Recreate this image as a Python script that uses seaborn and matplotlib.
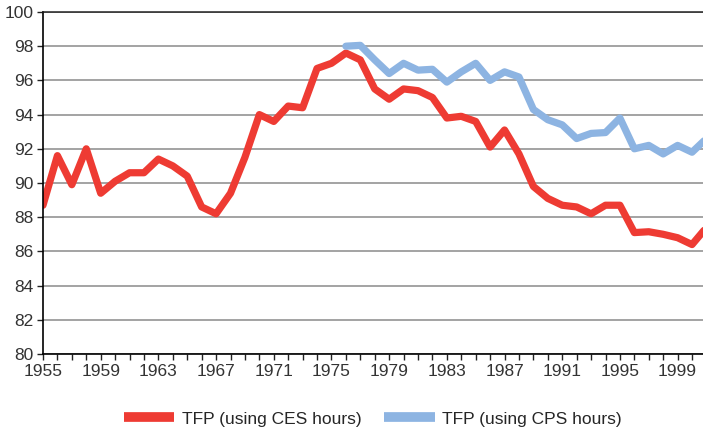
import numpy as np
import pandas as pd
import matplotlib
matplotlib.use("Agg")
import matplotlib.pyplot as plt
import seaborn as sns

# Data
years_ces = list(range(1955, 2002))
tfp_ces = [88.7, 91.6, 89.9, 92.0, 89.4, 90.1, 90.6, 90.6, 91.4, 91.0,
           90.4, 88.6, 88.2, 89.4, 91.5, 94.0, 93.6, 94.5, 94.4, 96.7,
           97.0, 97.6, 97.2, 95.5, 94.9, 95.5, 95.4, 95.0, 93.8, 93.9,
           93.6, 92.1, 93.1, 91.7, 89.8, 89.1, 88.7, 88.6, 88.2, 88.7,
           88.7, 87.1, 87.15, 87.0, 86.8, 86.4, 87.4]

years_cps = list(range(1976, 2002))
tfp_cps = [98.0, 98.05, 97.2, 96.4, 97.0, 96.6, 96.65, 95.9, 96.5, 97.0,
           96.0, 96.5, 96.2, 94.3, 93.7, 93.4, 92.6, 92.9, 92.95, 93.8,
           92.0, 92.2, 91.7, 92.2, 91.8, 92.6]

label_ces = "TFP (using CES hours)"
label_cps = "TFP (using CPS hours)"

df = pd.concat([
    pd.DataFrame({"year": years_ces, "tfp": tfp_ces, "series": label_ces}),
    pd.DataFrame({"year": years_cps, "tfp": tfp_cps, "series": label_cps}),
])

sns.set_style("white")
plt.rcParams["font.family"] = ["Liberation Sans", "DejaVu Sans"]

fig = plt.figure(figsize=(7.03, 4.32), dpi=100)
ax = fig.add_axes([43 / 703, 1 - 354 / 432, 1 - 43 / 703, (354 - 12) / 432])

sns.lineplot(data=df, x="year", y="tfp", hue="series",
             palette={label_ces: "#EE3B33", label_cps: "#8DB4E2"},
             linewidth=5.2, ax=ax, legend=True)

ax.set_xlim(1955, 2000.76)
ax.set_ylim(80, 100)
ax.set_yticks(np.arange(80, 101, 2))
ax.set_xticks(range(1955, 2000, 4))
ax.set_xticks(range(1955, 2001), minor=True)
ax.grid(axis="y", color="#8a8a8a", linewidth=1.1, zorder=0)
ax.set_axisbelow(True)
ax.set_xlabel("")
ax.set_ylabel("")

# top edge line at 100 is dark in the original
ax.spines["top"].set_color("#222222")
ax.spines["top"].set_linewidth(1.1)
ax.spines["right"].set_visible(False)
for s in ["left", "bottom"]:
    ax.spines[s].set_color("black")
    ax.spines[s].set_linewidth(1.2)

ax.tick_params(axis="both", which="major", labelsize=12.5, colors="#222222",
               direction="out", length=4, width=1, labelcolor="#333333")
ax.tick_params(axis="x", which="minor", direction="out", length=4, width=1,
               colors="#222222", bottom=True)
ax.tick_params(axis="x", which="major", pad=3, bottom=True)
ax.tick_params(axis="y", which="major", pad=3, left=True)

handles, labels = ax.get_legend_handles_labels()
ax.legend(handles, labels, loc="center", bbox_to_anchor=(0.5, -0.19),
          ncol=2, frameon=False, fontsize=12.5, handlelength=2.9,
          columnspacing=1.3, handletextpad=0.45)
for line in ax.get_legend().get_lines():
    line.set_linewidth(7)
    line.set_solid_capstyle("butt")

fig.savefig("out.png", dpi=100)
